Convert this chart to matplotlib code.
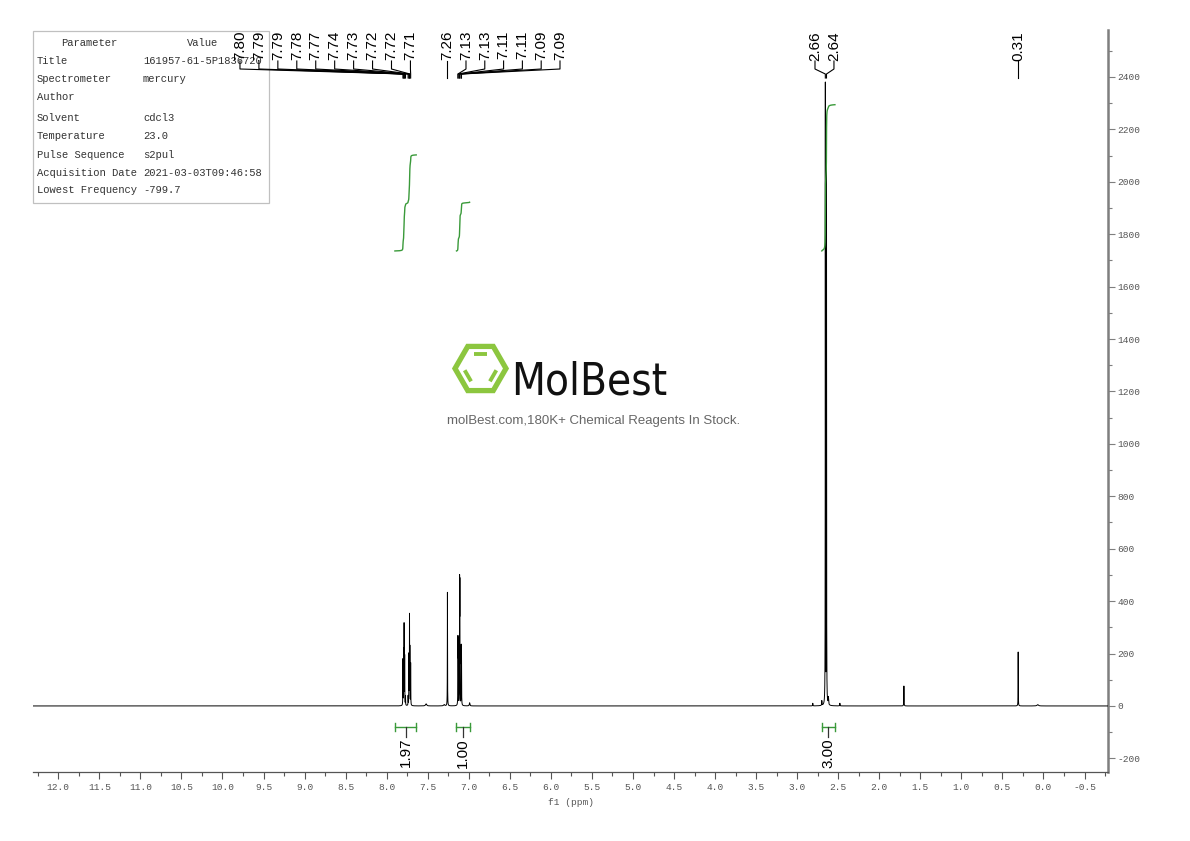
#!/usr/bin/env python
"""1H NMR spectrum (cdcl3, mercury) redrawn from a MolBest report page."""
import os
import numpy as np
import matplotlib
matplotlib.use("Agg")
import matplotlib.pyplot as plt
from matplotlib import transforms, font_manager
from matplotlib.patches import Rectangle, RegularPolygon
from matplotlib.ticker import MultipleLocator, FormatStrFormatter

W, H = 1190, 841

# peak list: position (ppm), height (a.u.), line half-width (ppm)
PEAK_PPM = [7.802, 7.793, 7.788, 7.781, 7.771, 7.739, 7.729, 7.722, 7.718, 7.708,
            7.260,
            7.132, 7.129, 7.112, 7.109, 7.092, 7.089,
            7.52, 7.30, 6.99,
            2.81, 2.70, 2.657, 2.643, 2.62, 2.48,
            1.70, 0.308, 0.07]
PEAK_HEIGHT = [175, 200, 300, 185, 35, 35, 190, 330, 200, 160,
               434,
               235, 225, 440, 425, 205, 195,
               8, 5, 12,
               10, 18, 2365, 2190, 28, 10,
               76, 206, 5]
PEAK_WIDTH = [0.0012] * 17 + [0.008, 0.008, 0.004,
                              0.002, 0.002, 0.0012, 0.0012, 0.003, 0.002,
                              0.0015, 0.0012, 0.01]

# labelled peaks, grouped as the software drew them
LABEL_GROUPS = [
    [7.802, 7.793, 7.788, 7.781, 7.771, 7.739, 7.729, 7.722, 7.718, 7.708],
    [7.260],
    [7.132, 7.129, 7.112, 7.109, 7.092, 7.089],
    [2.657, 2.643],
    [0.308],
]
# integrals: (from ppm, to ppm, value)
INT_FROM = [7.90, 7.15, 2.70]
INT_TO = [7.64, 6.99, 2.54]
INT_VALUE = [1.97, 1.00, 3.00]

PARAMS = [
    ("Title", "161957-61-5P1836720"),
    ("Spectrometer", "mercury"),
    ("Author", ""),
    ("Solvent", "cdcl3"),
    ("Temperature", "23.0"),
    ("Pulse Sequence", "s2pul"),
    ("Acquisition Date", "2021-03-03T09:46:58"),
    ("Lowest Frequency", "-799.7"),
]

plt.rcParams["axes.unicode_minus"] = False
MONO = "Liberation Mono"
GREEN = "#3a9a3a"
LIME = "#8cc63f"


def narrow_font():
    """Pick a condensed sans face for the logo word, if one is installed."""
    cands = []
    for f in font_manager.fontManager.ttflist:
        base = os.path.basename(f.fname).lower()
        if ("narrow" in base or "condensed" in base) and not any(
                k in base for k in ("italic", "oblique", "light", "thin", "black", "extra", "semi")):
            score = 0 if "liberationsansnarrow-regular" in base else (1 if "bold" not in base else 2)
            cands.append((score, f.fname))
    if cands:
        cands.sort()
        return font_manager.FontProperties(fname=cands[0][1])
    return font_manager.FontProperties(family="Liberation Sans")


def main():
    fig = plt.figure(figsize=(W / 100, H / 100), dpi=100, facecolor="white")
    ax = fig.add_axes([33 / W, 1 - 772 / H, (1108 - 33) / W, (772 - 30) / H])
    px = transforms.Affine2D().scale(1 / W, -1 / H).translate(0, 1) + fig.transFigure
    xpx = transforms.blended_transform_factory(ax.transData, px)

    ppm = np.linspace(12.31, -0.79, 80000)
    spec = np.zeros_like(ppm)
    for p, h, w in zip(PEAK_PPM, PEAK_HEIGHT, PEAK_WIDTH):
        spec += h / (1 + ((ppm - p) / w) ** 2)
    ax.plot(ppm, spec, color="black", lw=0.7, zorder=3)

    ax.set_xlim(12.308, -0.786)
    ax.set_ylim(-252, 2579)

    # integral curves and brackets
    base, scale = 1736, 186
    for a, b, val in zip(INT_FROM, INT_TO, INT_VALUE):
        m = (ppm <= a) & (ppm >= b)
        cum = np.cumsum(spec[m])
        cum = cum / cum[-1] * val
        ax.plot(ppm[m], base + cum * scale, color=GREEN, lw=1.0, zorder=3)
        c = (a + b) / 2
        ax.plot([a, b], [727, 727], color=GREEN, lw=1.0, transform=xpx)
        for e in (a, b):
            ax.plot([e, e], [723, 731], color=GREEN, lw=1.0, transform=xpx)
        ax.plot([c, c], [727, 737], color="#333333", lw=0.9, transform=xpx)
        ax.text(c, 738, f"{val:.2f}", rotation=90, ha="center", va="top",
                fontsize=11, family="Liberation Sans", transform=xpx)

    # peak labels: spread to the left of each group, tied back with leader lines
    for grp in LABEL_GROUPS:
        n = len(grp)
        if n == 10:
            xs = [9.787 - 0.2307 * i for i in range(n)]
        elif n == 6:
            xs = [7.034 - 0.229 * i for i in range(n)]
        elif n == 2:
            xs = [2.783, 2.552]
        else:
            xs = [grp[0]]
        for lx, p in zip(xs, grp):
            ax.text(lx, 31, f"{p:.2f}", rotation=90, ha="center", va="top",
                    fontsize=11, family="Liberation Sans", transform=xpx, zorder=4)
            ax.plot([lx, lx, p, p], [61, 69, 74, 78], color="black", lw=0.8,
                    transform=xpx, zorder=4, clip_on=False)

    # parameter table
    ax.add_patch(Rectangle((33, 31), 236, 172, transform=px, fc="white", ec="#c0c0c0",
                           lw=0.9, zorder=2, clip_on=False))
    tfs = 7.6
    ax.text(89, 43, "Parameter", transform=px, ha="center", va="center",
            family=MONO, fontsize=tfs, color="#333333", zorder=2.5)
    ax.text(203, 43, "Value", transform=px, ha="center", va="center",
            family=MONO, fontsize=tfs, color="#333333", zorder=2.5)
    row_y = [61, 79, 97, 118, 136, 155, 173, 190]
    for (k, v), y in zip(PARAMS, row_y):
        ax.text(37, y, k, transform=px, ha="left", va="center",
                family=MONO, fontsize=tfs, color="#333333", zorder=2.5)
        ax.text(143, y, v, transform=px, ha="left", va="center",
                family=MONO, fontsize=tfs, color="#333333", zorder=2.5)

    # watermark
    cx, cy, r = 480.5, 368.5, 25.5
    ax.add_patch(RegularPolygon((cx, cy), 6, radius=r, orientation=np.pi / 6, transform=px,
                                fill=False, ec=LIME, lw=3.8, zorder=1, clip_on=False))
    ang = np.deg2rad([0, 60, 120, 180, 240, 300])
    vx, vy = cx + r * np.cos(ang), cy - r * np.sin(ang)
    for i, j in [(1, 2), (3, 4), (5, 0)]:
        k = 0.66
        x1, y1 = cx + (vx[i] - cx) * k, cy + (vy[i] - cy) * k
        x2, y2 = cx + (vx[j] - cx) * k, cy + (vy[j] - cy) * k
        s = 0.12
        ax.plot([x1 + (x2 - x1) * s, x2 - (x2 - x1) * s], [y1 + (y2 - y1) * s, y2 - (y2 - y1) * s],
                color=LIME, lw=2.8, solid_capstyle="butt", transform=px, zorder=1, clip_on=False)
    fp = narrow_font()
    word = ax.text(511, 395, "MolBest", transform=px, ha="left", va="baseline",
                   fontproperties=fp, fontsize=40, color="#111111", zorder=1)
    fig.canvas.draw()
    wpx = word.get_window_extent(fig.canvas.get_renderer()).width
    word.set_fontsize(40 * 156 / wpx)
    ax.text(594, 421, "molBest.com,180K+ Chemical Reagents In Stock.", transform=px,
            ha="center", va="center", family="Liberation Sans", fontsize=9.5,
            color="#666666", zorder=1)

    # axes styling
    for s in ("left", "top"):
        ax.spines[s].set_visible(False)
    ax.spines["right"].set_color("#7f7f7f")
    ax.spines["right"].set_linewidth(1.8)
    ax.spines["bottom"].set_color("#555555")
    ax.spines["bottom"].set_linewidth(0.9)
    ax.xaxis.set_major_locator(MultipleLocator(0.5))
    ax.xaxis.set_minor_locator(MultipleLocator(0.25))
    ax.xaxis.set_major_formatter(FormatStrFormatter("%.1f"))
    ax.yaxis.set_major_locator(MultipleLocator(200))
    ax.yaxis.set_minor_locator(MultipleLocator(100))
    ax.yaxis.tick_right()
    ax.tick_params(axis="x", which="major", length=5, width=0.8, color="#555555",
                   labelsize=6.8, labelcolor="#555555", pad=3)
    ax.tick_params(axis="x", which="minor", length=3, width=0.8, color="#555555")
    ax.tick_params(axis="y", which="major", length=5, width=0.8, color="#7f7f7f",
                   labelsize=6.8, labelcolor="#555555", pad=2)
    ax.tick_params(axis="y", which="minor", length=3, width=0.8, color="#7f7f7f")
    for t in ax.get_xticklabels() + ax.get_yticklabels():
        t.set_family(MONO)
    ax.set_xlabel("f1 (ppm)", family=MONO, fontsize=6.8, color="#555555", labelpad=4)

    fig.savefig("out.png", dpi=100, facecolor="white")
    plt.close(fig)


if __name__ == "__main__":
    main()
